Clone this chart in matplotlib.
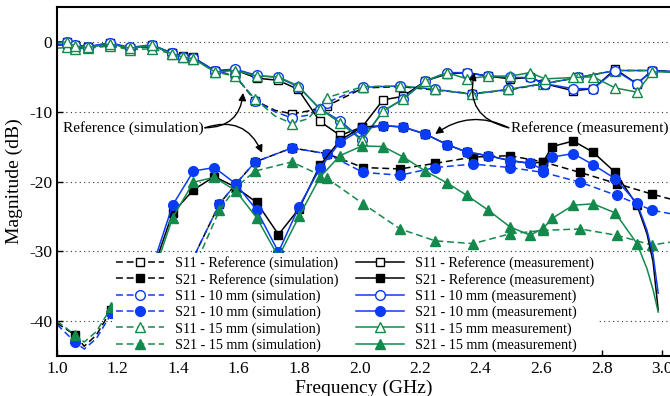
import matplotlib
matplotlib.use('Agg')
import matplotlib.pyplot as plt
from matplotlib.lines import Line2D

plt.rcParams['font.family'] = ['Liberation Serif', 'DejaVu Serif']
plt.rcParams['axes.unicode_minus'] = False

BLACK = '#000000'
BLUE = '#0b3cf5'
GREEN = '#138a4c'

# S11, measurement (solid, open markers)
s11_meas_f = [1.0, 1.033, 1.06, 1.102, 1.175, 1.241, 1.314, 1.38, 1.417, 1.45,
              1.522, 1.588, 1.661, 1.731, 1.797, 1.869, 1.936, 2.008, 2.078, 2.144,
              2.217, 2.289, 2.355, 2.425, 2.498, 2.564, 2.613, 2.706, 2.772, 2.845,
              2.917, 2.967, 3.026]
s11_ref_meas = [0.0, 0.0, -0.5, -0.7, -0.2, -0.9, -0.5, -1.6, -2.0, -2.2,
                -4.2, -4.0, -5.2, -5.5, -6.8, -11.4, -13.4, -12.2, -8.3, -7.8,
                -5.6, -4.6, -4.4, -4.9, -5.3, -5.1, -6.0, -7.0, -6.7, -3.9,
                -6.0, -4.1, -4.3]
s11_10_meas = [0.0, 0.0, -0.4, -0.7, -0.1, -0.8, -0.4, -1.6, -2.1, -2.3,
               -4.1, -3.9, -4.8, -5.1, -6.4, -9.6, -11.3, -14.0, -9.9, -8.2,
               -5.6, -4.4, -4.4, -4.9, -5.1, -5.1, -6.0, -6.7, -6.7, -4.1,
               -6.0, -4.1, -4.3]
s11_15_meas = [-0.2, 0.0, -0.6, -0.8, -0.3, -0.9, -0.5, -1.7, -2.2, -2.4,
               -4.3, -4.1, -4.9, -5.0, -6.3, -9.6, -11.6, -14.1, -9.9, -8.2,
               -5.6, -4.4, -5.3, -4.9, -4.9, -4.4, -5.3, -5.1, -5.0, -6.6,
               -7.2, -4.3, -4.3]
s11_meas_marks = list(range(1, 32))

# S11, simulation (dashed, open markers)
s11_sim_f = [1.0, 1.033, 1.06, 1.102, 1.175, 1.241, 1.314, 1.38, 1.417, 1.45,
             1.522, 1.588, 1.655, 1.72, 1.776, 1.83, 1.891, 2.012, 2.134, 2.25,
             2.371, 2.49, 2.607, 2.722, 2.845, 2.966, 3.026]
s11_ref_sim = [-0.5, -0.3, -0.7, -0.8, -0.4, -0.9, -0.7, -1.6, -2.1, -2.3,
               -4.2, -4.8, -8.4, -9.8, -10.3, -9.9, -9.2, -6.6, -6.4, -6.9,
               -7.4, -6.9, -6.0, -5.1, -4.1, -4.1, -4.2]
s11_10_sim = [-0.5, -0.3, -0.7, -0.8, -0.4, -0.9, -0.7, -1.6, -2.1, -2.3,
              -4.2, -4.8, -8.4, -10.0, -10.9, -10.5, -8.7, -6.5, -6.3, -6.8,
              -7.5, -6.8, -6.0, -5.1, -4.1, -4.1, -4.2]
s11_15_sim = [-0.9, -0.8, -1.0, -0.9, -0.6, -1.1, -1.0, -1.7, -2.2, -2.4,
              -4.3, -4.9, -8.2, -10.6, -11.7, -11.0, -8.0, -6.4, -6.3, -6.8,
              -7.5, -6.8, -6.0, -5.1, -4.1, -4.1, -4.2]
s11_sim_marks = list(range(1, 13)) + [14] + list(range(16, 26))

# S21, measurement (solid, filled markers)
s21_meas_f = [1.19, 1.232, 1.317, 1.382, 1.451, 1.52, 1.59, 1.66, 1.732, 1.80,
              1.869, 1.935, 2.008, 2.078, 2.145, 2.217, 2.289, 2.355, 2.425, 2.497,
              2.564, 2.607, 2.636, 2.706, 2.772, 2.845, 2.917, 2.95, 2.97, 2.987]
s21_ref_meas = [-50, -44.6, -32.7, -24.5, -21.2, -19.3, -20.8, -23.0, -27.6, -23.9,
                -17.7, -14.1, -12.2, -12.0, -12.2, -13.2, -14.7, -15.8, -16.3, -17.0,
                -17.4, -17.2, -15.0, -14.2, -15.8, -18.7, -23.4, -27.5, -31.5, -38.4]
s21_10_meas = [-50, -44.6, -32.0, -23.4, -18.5, -18.0, -20.3, -24.1, -30.1, -23.6,
               -18.1, -14.4, -12.5, -12.0, -12.2, -13.2, -14.7, -15.8, -16.3, -17.0,
               -17.4, -18.3, -16.5, -16.0, -17.6, -19.6, -23.1, -27.0, -30.5, -36.0]
s21_15_meas = [-50, -45.5, -33.5, -25.2, -20.1, -19.4, -21.3, -25.2, -30.8, -25.0,
               -19.4, -16.3, -14.9, -15.0, -16.5, -18.5, -20.2, -22.0, -24.1, -26.5,
               -27.7, -26.7, -25.3, -23.4, -23.2, -24.5, -28.9, -32.5, -35.5, -38.7]
s21_meas_marks = list(range(1, 27))

# S21, simulation (dashed, filled markers)
s21_sim_f = [1.0, 1.06, 1.09, 1.13, 1.18, 1.22, 1.27, 1.32, 1.36, 1.40,
             1.462, 1.537, 1.592, 1.655, 1.776, 1.891, 2.012, 2.134, 2.25, 2.375,
             2.497, 2.607, 2.729, 2.85, 2.966, 3.026]
s21_ref_sim = [-40.3, -42.0, -43.6, -42.0, -38.4, -34.5, -33.5, -38.5, -50, -41,
               -29.9, -23.2, -20.3, -17.2, -15.2, -16.0, -18.0, -18.2, -17.4, -16.5,
               -16.3, -17.2, -18.7, -20.3, -21.8, -22.5]
s21_10_sim = [-40.5, -43.0, -44.0, -42.5, -38.9, -35, -34, -39, -50, -41,
              -29.9, -23.2, -20.3, -17.2, -15.2, -16.0, -18.7, -19.1, -18.0, -17.5,
              -18.0, -18.7, -20.1, -22.0, -24.1, -24.6]
s21_15_sim = [-40.0, -42.0, -43.0, -41.5, -38.0, -34, -33, -38, -50, -43,
              -31.5, -24.1, -20.8, -18.5, -17.2, -19.5, -23.2, -26.8, -28.5, -28.9,
              -27.5, -27.0, -26.8, -27.7, -29.1, -28.7]
s21_sim_marks = [1, 4] + list(range(11, 25))

labels_sim = ['S11 - Reference (simulation)', 'S21 - Reference (simulation)',
              'S11 - 10 mm (simulation)', 'S21 - 10 mm (simulation)',
              'S11 - 15 mm (simulation)', 'S21 - 15 mm (simulation)']
labels_meas = ['S11 - Reference (measurement)', 'S21 - Reference (measurement)',
               'S11 - 10 mm (measurement)', 'S21 - 10 mm (measurement)',
               'S11 - 15 mm measurement)', 'S21 - 15 mm (measurement)']

fig = plt.figure(figsize=(6.7, 3.96), dpi=100)
ax = fig.add_axes([57 / 670, 40 / 396, 613 / 670, 349 / 396])

dash = (0, (4.5, 2.5))
lw = 1.1
ms = {'s': 6, 'o': 7, '^': 7}

series = [
    # sim
    (s11_sim_f, s11_ref_sim, s11_sim_marks, BLACK, 's', False, dash),
    (s11_sim_f, s11_10_sim, s11_sim_marks, BLUE, 'o', False, dash),
    (s11_sim_f, s11_15_sim, s11_sim_marks, GREEN, '^', False, dash),
    (s21_sim_f, s21_ref_sim, s21_sim_marks, BLACK, 's', True, dash),
    (s21_sim_f, s21_10_sim, s21_sim_marks, BLUE, 'o', True, dash),
    (s21_sim_f, s21_15_sim, s21_sim_marks, GREEN, '^', True, dash),
    # meas
    (s11_meas_f, s11_ref_meas, s11_meas_marks, BLACK, 's', False, '-'),
    (s11_meas_f, s11_10_meas, s11_meas_marks, BLUE, 'o', False, '-'),
    (s11_meas_f, s11_15_meas, s11_meas_marks, GREEN, '^', False, '-'),
    (s21_meas_f, s21_ref_meas, s21_meas_marks, BLACK, 's', True, '-'),
    (s21_meas_f, s21_10_meas, s21_meas_marks, BLUE, 'o', True, '-'),
    (s21_meas_f, s21_15_meas, s21_meas_marks, GREEN, '^', True, '-'),
]
for f, db, marks, c, m, filled, ls in series:
    ax.plot(f, db, color=c, ls=ls, lw=lw, marker=m, markevery=marks, ms=ms[m],
            mfc=c if filled else 'white', mec=c, mew=1.0)

ax.set_xlim(1.0, 3.026)
ax.set_ylim(-45, 5)
ax.set_xticks([1.0, 1.2, 1.4, 1.6, 1.8, 2.0, 2.2, 2.4, 2.6, 2.8, 3.0])
ax.set_yticks([0, -10, -20, -30, -40])
ax.tick_params(direction='in', labelsize=12.5, length=4, width=1)
ax.grid(axis='y', ls=(0, (1, 3)), color='#333333', lw=0.8)
ax.spines['right'].set_visible(False)
for s in ['top', 'left', 'bottom']:
    ax.spines[s].set_linewidth(1.5)
ax.set_xlabel('Frequency (GHz)', fontsize=14, labelpad=2)
ax.set_ylabel('Magnitude (dB)', fontsize=14, labelpad=4)

# annotations
ax.text(1.02, -12.4, 'Reference (simulation)', fontsize=11, va='center', ha='left')
ax.text(2.50, -12.4, 'Reference (measurement)', fontsize=11, va='center', ha='left')
arrow_kw = dict(arrowstyle='-|>', color='black', lw=1.0, mutation_scale=11,
                shrinkA=0, shrinkB=0)
ax.annotate('', xy=(1.615, -7.3), xytext=(1.489, -12.3),
            arrowprops=dict(connectionstyle='arc3,rad=0.45', **arrow_kw))
ax.annotate('', xy=(1.678, -15.9), xytext=(1.489, -12.3),
            arrowprops=dict(connectionstyle='arc3,rad=-0.45', **arrow_kw))
ax.annotate('', xy=(2.38, -4.4), xytext=(2.493, -12.3),
            arrowprops=dict(connectionstyle='arc3,rad=-0.5', **arrow_kw))
ax.annotate('', xy=(2.25, -13.2), xytext=(2.493, -12.3),
            arrowprops=dict(connectionstyle='arc3,rad=0.3', **arrow_kw))

# legend
handles = []
labels = []
styles = [(BLACK, 's', False), (BLACK, 's', True), (BLUE, 'o', False),
          (BLUE, 'o', True), (GREEN, '^', False), (GREEN, '^', True)]
for ls, labs in [(dash, labels_sim), ('-', labels_meas)]:
    for (c, m, filled), lab in zip(styles, labs):
        handles.append(Line2D([], [], color=c, ls=ls, lw=lw, marker=m, ms=ms[m],
                              mfc=c if filled else 'white', mec=c, mew=1.0))
        labels.append(lab)
leg = ax.legend(handles, labels, ncol=2, loc='upper left',
                bbox_to_anchor=(113 / 670, 1 - 253 / 396), bbox_transform=fig.transFigure,
                fontsize=10.2, handlelength=3.4, handletextpad=0.8, columnspacing=1.2,
                labelspacing=0.2, borderpad=0.2, borderaxespad=0,
                frameon=True, framealpha=1, edgecolor='none', fancybox=False)
leg.set_zorder(5)

fig.savefig('out.png', dpi=100)
